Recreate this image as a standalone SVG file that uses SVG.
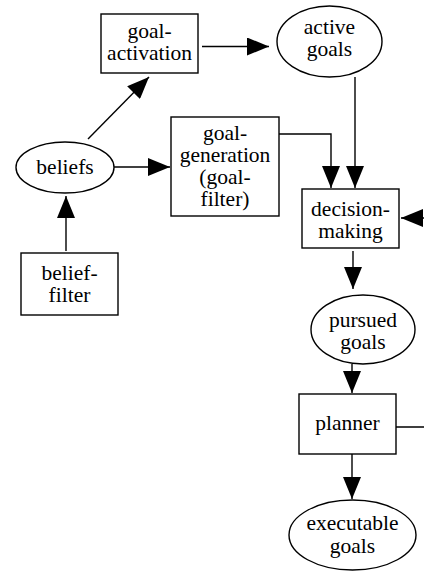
<svg xmlns="http://www.w3.org/2000/svg" width="424" height="575" viewBox="0 0 424 575" font-family="'Liberation Serif', 'Times New Roman', Times, 'DejaVu Serif', serif">
<style>
.n{fill:#fff;stroke:#000;stroke-width:1.4}
.e{fill:none;stroke:#000;stroke-width:1.4;marker-end:url(#ah)}
text{font-family:'Liberation Serif','Times New Roman',Times,'DejaVu Serif',serif;font-size:21.5px;text-anchor:middle;fill:#000}
</style>
<defs>
<marker id="ah" viewBox="0 0 22 18" refX="22" refY="9" markerWidth="22" markerHeight="18" markerUnits="userSpaceOnUse" orient="auto">
<path d="M0,0 L22,9 L0,18 Z" fill="#000"/>
</marker>
</defs>
<rect width="424" height="575" fill="#fff"/>
<g id="connectors">
<path class="e" d="M202,46.5 L269,46.5"/>
<path class="e" d="M88,139 L149,77"/>
<path class="e" d="M114,167 L170,167"/>
<path class="e" d="M66,251 L66,196"/>
<path class="e" d="M279,134 L331,134 L331,188"/>
<path class="e" d="M355,77 L355,188"/>
<path class="e" d="M353,251 L353,289"/>
<path class="e" d="M352,364 L352,393"/>
<path class="e" d="M352,454 L352,499"/>
<path class="e" d="M396,427 L440,427 L440,218 L401,218"/>
</g>
<g id="goal-activation">
<rect class="n" x="101" y="14" width="97" height="59"/>
<text x="149.5" y="38">goal-</text>
<text x="149.5" y="60">activation</text>
</g>
<g id="active-goals">
<ellipse class="n" cx="329.5" cy="41.5" rx="52.5" ry="35.5"/>
<text x="329.5" y="34">active</text>
<text x="329.5" y="56">goals</text>
</g>
<g id="beliefs">
<ellipse class="n" cx="65" cy="167.5" rx="49" ry="25.5"/>
<text x="65" y="174">beliefs</text>
</g>
<g id="goal-generation">
<rect class="n" x="171" y="117" width="108" height="99"/>
<text x="225" y="140">goal-</text>
<text x="225" y="162">generation</text>
<text x="225" y="184">(goal-</text>
<text x="225" y="206">filter)</text>
</g>
<g id="belief-filter">
<rect class="n" x="21" y="253" width="97" height="62"/>
<text x="69.5" y="280">belief-</text>
<text x="69.5" y="302">filter</text>
</g>
<g id="decision-making">
<rect class="n" x="302" y="189" width="97" height="59"/>
<text x="350.5" y="216">decision-</text>
<text x="350.5" y="238">making</text>
</g>
<g id="pursued-goals">
<ellipse class="n" cx="363" cy="329.5" rx="52" ry="34.5"/>
<text x="363" y="327">pursued</text>
<text x="363" y="349">goals</text>
</g>
<g id="planner">
<rect class="n" x="299" y="394" width="97" height="60"/>
<text x="347.5" y="430">planner</text>
</g>
<g id="executable-goals">
<ellipse class="n" cx="352.5" cy="535" rx="63.5" ry="35"/>
<text x="352.5" y="530">executable</text>
<text x="352.5" y="553">goals</text>
</g>
</svg>
